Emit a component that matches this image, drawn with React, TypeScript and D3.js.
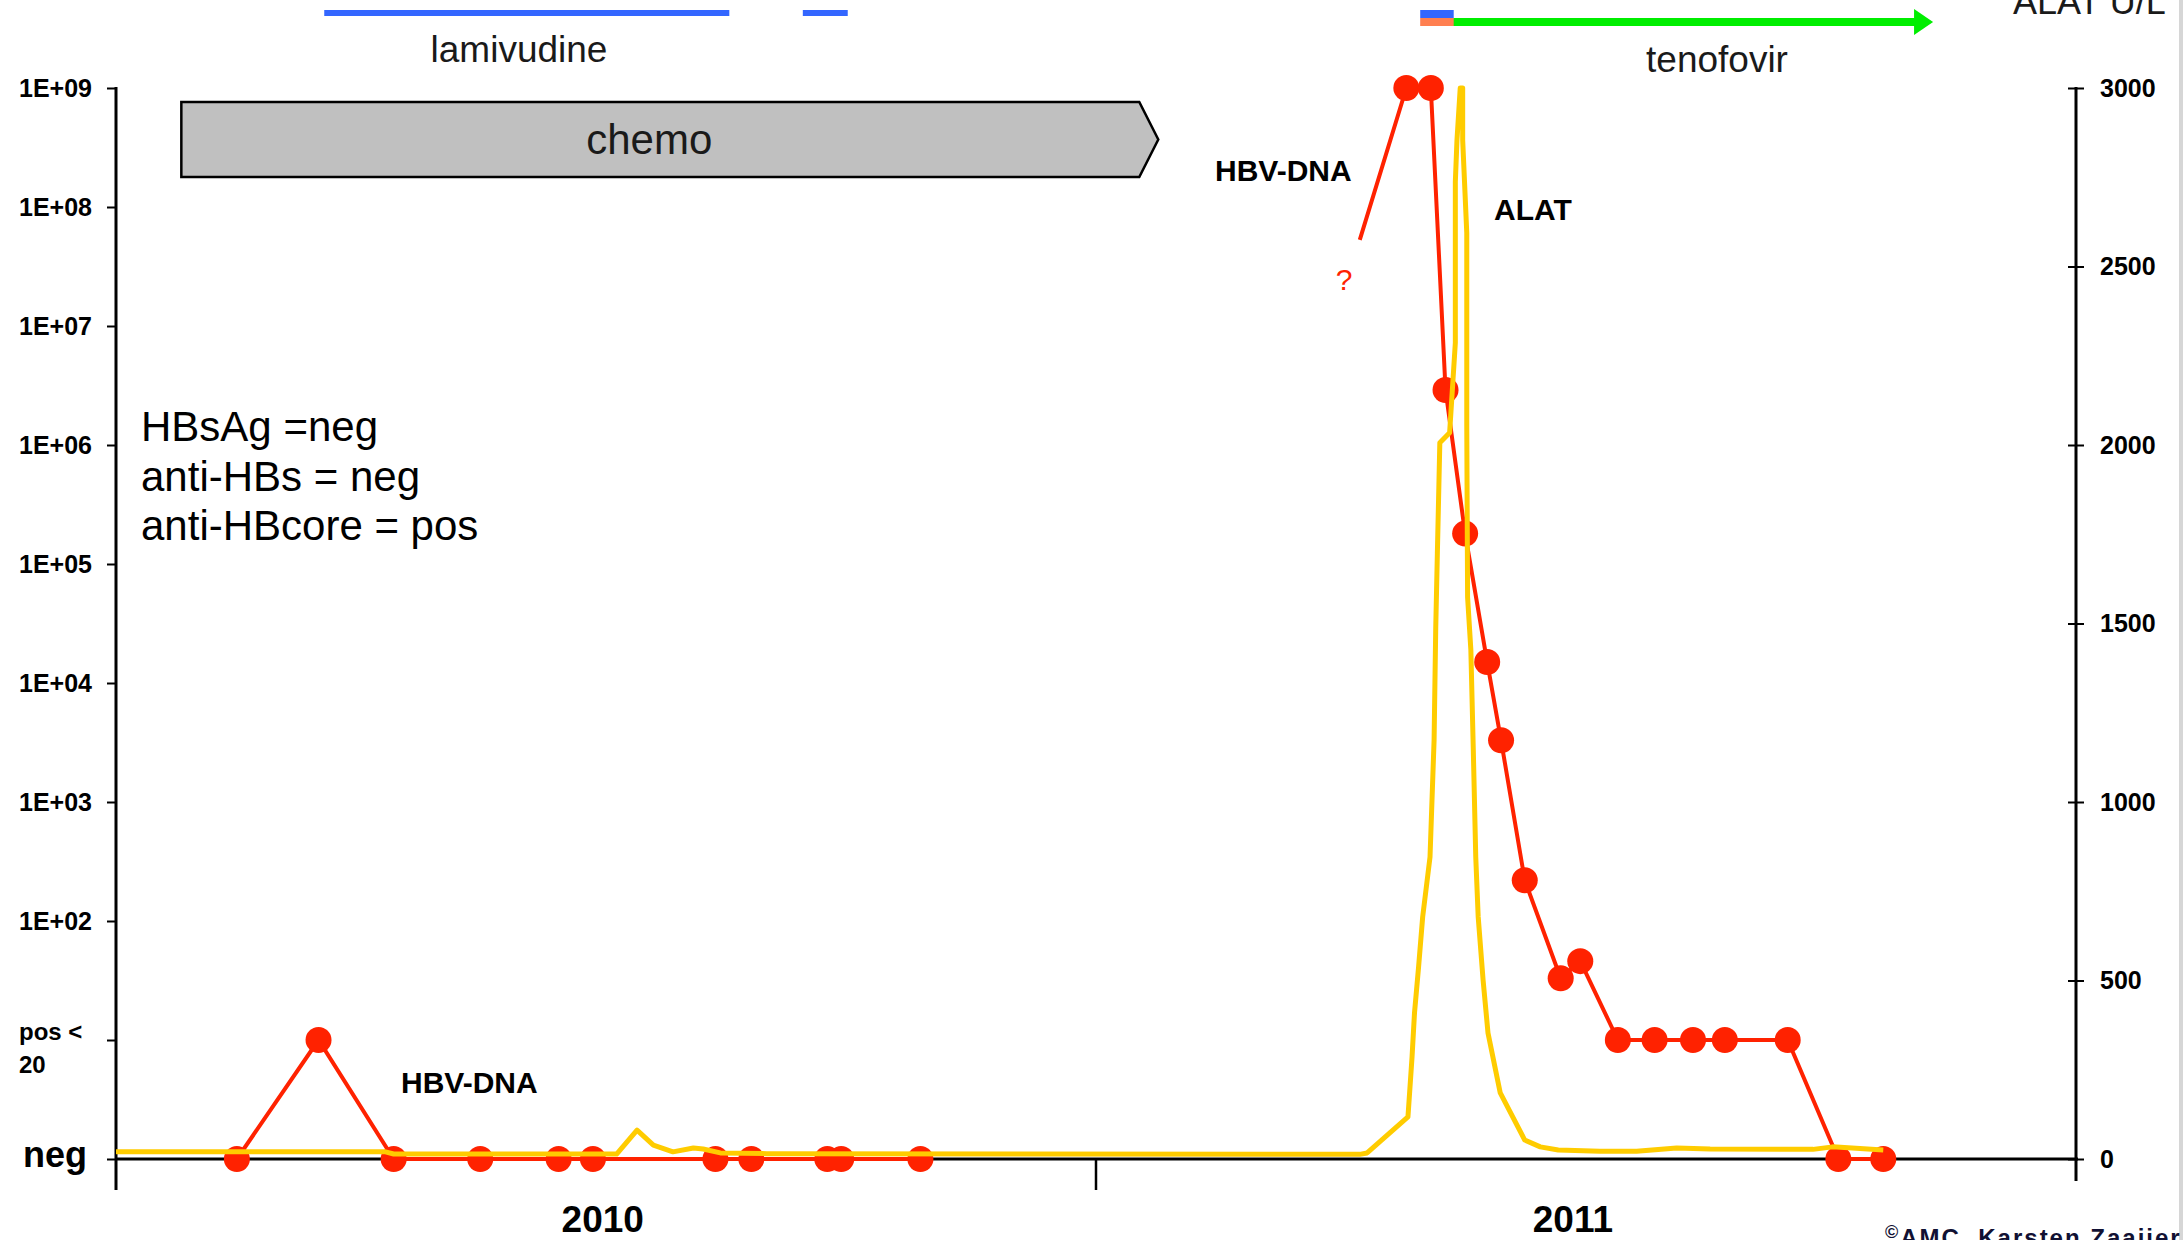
import React, { useEffect, useRef } from 'react';
import * as d3 from 'd3';

// time axis in months since Jan 2010
// HBV-DNA copies/ml, 1 = neg, 10 = pos < 20
const hbvMonths = [1.48, 2.48, 3.4, 4.46, 5.42, 5.84, 7.34, 7.78, 8.71, 8.88, 9.85, 15.8, 16.1, 16.28, 16.52, 16.79, 16.96, 17.25, 17.69, 17.93, 18.39, 18.84, 19.31, 19.7, 20.47, 21.09, 21.64];
const hbvCopies = [1, 10, 1, 1, 1, 1, 1, 1, 1, 1, 1, 1e9, 1e9, 2.9e6, 1.8e5, 1.5e4, 3.3e3, 220, 33, 46, 10, 10, 10, 10, 10, 1, 1];
const hbvBreakIndex = 11; // no samples between these two parts
const hbvUnknownMonth = 15.23; // the "?" start of the rise
const hbvUnknownCopies = 5.3e7;

// ALAT U/L
const alatMonths = [0, 3.3, 3.4, 6.13, 6.38, 6.58, 6.82, 7.07, 7.19, 7.4, 7.97, 15.23, 15.32, 15.82, 15.87, 15.9, 15.95, 16.0, 16.09, 16.14, 16.16, 16.18, 16.2, 16.21, 16.33, 16.4, 16.4, 16.4, 16.42, 16.46, 16.49, 16.49, 16.54, 16.54, 16.55, 16.59, 16.62, 16.65, 16.68, 16.74, 16.8, 16.95, 17.25, 17.44, 17.66, 18.17, 18.62, 19.11, 19.52, 20.78, 21.02, 21.64];
const alatValues = [20, 20, 14, 14, 81, 39, 20, 31, 28, 17, 15, 13, 17, 118, 286, 409, 538, 678, 846, 1174, 1487, 1697, 1902, 2006, 2034, 2286, 2406, 2737, 2854, 3000, 3000, 2854, 2594, 2056, 1574, 1426, 1146, 846, 678, 501, 353, 185, 53, 34, 25, 22, 22, 31, 28, 27, 34, 25];

const leftTickValues = [1, 10, 1e2, 1e3, 1e4, 1e5, 1e6, 1e7, 1e8, 1e9];
const leftTickLabels = ['neg', 'pos <|20', '1E+02', '1E+03', '1E+04', '1E+05', '1E+06', '1E+07', '1E+08', '1E+09'];
const rightTickValues = [0, 500, 1000, 1500, 2000, 2500, 3000];
const yearLabels = ['2010', '2011'];
const yearCenters = [5.96, 17.84];
const yearBoundaries = [12];

const chemoPeriod = [0.8, 12.53];
const lamivudinePeriods = [[2.55, 7.51], [8.41, 8.96]];
const switchPeriod = [15.97, 16.38];
const tenofovirPeriod = [16.38, 22.25];

const serology = ['HBsAg =neg', 'anti-HBs = neg', 'anti-HBcore = pos'];

const FONT = "'Liberation Sans', Arial, sans-serif";

const App = () => {
  const chartRef = useRef<HTMLDivElement | null>(null);

  useEffect(() => {
    document.body.style.margin = '0';
    const W = 2183;
    const H = 1240;
    const left = 116;
    const right = 2076;
    const top = 88;
    const base = 1159;

    const svg = d3
      .select(chartRef.current)
      .append('svg')
      .attr('width', W)
      .attr('height', H)
      .style('display', 'block')
      .style('background', '#fff');

    const x = d3.scaleLinear().domain([0, 24]).range([left, right]);
    const yLeft = d3.scaleLog().domain([1, 1e9]).range([base, top]);
    const yRight = d3.scaleLinear().domain([0, 3000]).range([base, top]);

    // thin grey frame edge on the right
    svg.append('rect').attr('x', W - 4).attr('y', 0).attr('width', 4).attr('height', H).attr('fill', '#d6d6d6');

    // chemo arrow box
    const cx0 = x(chemoPeriod[0]);
    const cx1 = x(chemoPeriod[1]);
    const cTop = 102;
    const cBot = 177;
    svg
      .append('path')
      .attr('d', `M${cx0},${cTop}L${cx1},${cTop}L${cx1 + 19},${(cTop + cBot) / 2}L${cx1},${cBot}L${cx0},${cBot}Z`)
      .attr('fill', '#c0c0c0')
      .attr('stroke', '#000')
      .attr('stroke-width', 2.5);
    svg
      .append('text')
      .attr('x', (cx0 + cx1) / 2 - 11)
      .attr('y', (cTop + cBot) / 2 + 14)
      .attr('text-anchor', 'middle')
      .style('font-family', FONT)
      .style('font-size', '42px')
      .attr('fill', '#1a1a1a')
      .text('chemo');

    // lamivudine bars
    svg
      .selectAll('.lam')
      .data(lamivudinePeriods)
      .enter()
      .append('rect')
      .attr('x', (d) => x(d[0]))
      .attr('y', 10)
      .attr('width', (d) => x(d[1]) - x(d[0]))
      .attr('height', 6)
      .attr('fill', '#3366ff');
    svg
      .append('text')
      .attr('x', 519)
      .attr('y', 62)
      .attr('text-anchor', 'middle')
      .style('font-family', FONT)
      .style('font-size', '37px')
      .attr('fill', '#1a1a1a')
      .text('lamivudine');

    // switch to tenofovir
    svg
      .append('rect')
      .attr('x', x(switchPeriod[0]))
      .attr('y', 10)
      .attr('width', x(switchPeriod[1]) - x(switchPeriod[0]))
      .attr('height', 8)
      .attr('fill', '#3366ff');
    svg
      .append('path')
      .attr('d', `M${x(switchPeriod[0])},18L${x(switchPeriod[1])},18L${x(switchPeriod[1]) + 5},26L${x(switchPeriod[0])},26Z`)
      .attr('fill', '#ff7f50');
    const tEnd = x(tenofovirPeriod[1]);
    svg
      .append('rect')
      .attr('x', x(tenofovirPeriod[0]))
      .attr('y', 18)
      .attr('width', tEnd - 18 - x(tenofovirPeriod[0]))
      .attr('height', 8)
      .attr('fill', '#00ee00');
    svg
      .append('path')
      .attr('d', `M${tEnd - 19},9L${tEnd},22L${tEnd - 19},35Z`)
      .attr('fill', '#00ee00');
    svg
      .append('text')
      .attr('x', 1717)
      .attr('y', 72)
      .attr('text-anchor', 'middle')
      .style('font-family', FONT)
      .style('font-size', '37px')
      .attr('fill', '#1a1a1a')
      .text('tenofovir');

    svg
      .append('text')
      .attr('x', 2013)
      .attr('y', 14)
      .style('font-family', FONT)
      .style('font-size', '36px')
      .attr('fill', '#1a1a1a')
      .text('ALAT U/L');

    // left axis
    const gl = svg
      .append('g')
      .attr('transform', `translate(${left},0)`)
      .call(d3.axisLeft(yLeft).tickValues(leftTickValues).tickSize(9).tickFormat((d, i) => leftTickLabels[i]));
    gl.select('.domain').remove();
    gl.selectAll('.tick line').attr('stroke', '#000').attr('stroke-width', 2);
    gl.selectAll<SVGTextElement, number>('.tick text')
      .attr('x', 19 - left)
      .attr('text-anchor', 'start')
      .attr('fill', '#000')
      .style('font-family', FONT)
      .style('font-weight', 'bold')
      .style('font-size', '25px')
      .each(function (d, i) {
        const label = leftTickLabels[i];
        const t = d3.select(this);
        if (label === 'neg') {
          t.style('font-size', '36px').attr('x', 23 - left).attr('dy', '0.22em');
        } else if (label.includes('|')) {
          const parts = label.split('|');
          t.text(null).attr('dy', null);
          t.append('tspan').attr('x', 19 - left).attr('y', -9).attr('dy', '0.35em').style('font-size', '24px').text(parts[0]);
          t.append('tspan').attr('x', 19 - left).attr('y', 24).attr('dy', '0.35em').style('font-size', '24px').text(parts[1]);
        }
      });
    svg.append('line').attr('x1', left).attr('x2', left).attr('y1', top - 1).attr('y2', 1190).attr('stroke', '#000').attr('stroke-width', 3);

    // right axis
    const gr = svg
      .append('g')
      .attr('transform', `translate(${right},0)`)
      .call(d3.axisRight(yRight).tickValues(rightTickValues).tickSize(8).tickPadding(16).tickFormat(d3.format('d')));
    gr.select('.domain').remove();
    gr.selectAll('.tick line').attr('stroke', '#000').attr('stroke-width', 2);
    gr.selectAll('.tick text')
      .attr('fill', '#000')
      .style('font-family', FONT)
      .style('font-weight', 'bold')
      .style('font-size', '25px');
    const gr2 = svg
      .append('g')
      .attr('transform', `translate(${right},0)`)
      .call(d3.axisLeft(yRight).tickValues(rightTickValues).tickSize(8).tickFormat(() => ''));
    gr2.select('.domain').remove();
    gr2.selectAll('.tick line').attr('stroke', '#000').attr('stroke-width', 2);
    svg.append('line').attr('x1', right).attr('x2', right).attr('y1', top - 1).attr('y2', 1181).attr('stroke', '#000').attr('stroke-width', 3);

    // x axis
    svg.append('line').attr('x1', left).attr('x2', right + 2).attr('y1', base).attr('y2', base).attr('stroke', '#000').attr('stroke-width', 3);
    svg
      .selectAll('.ytick')
      .data(yearBoundaries)
      .enter()
      .append('line')
      .attr('x1', (d) => x(d))
      .attr('x2', (d) => x(d))
      .attr('y1', base)
      .attr('y2', 1190)
      .attr('stroke', '#000')
      .attr('stroke-width', 2.5);
    svg
      .selectAll('.year')
      .data(yearLabels)
      .enter()
      .append('text')
      .attr('x', (d, i) => x(yearCenters[i]))
      .attr('y', 1232)
      .attr('text-anchor', 'middle')
      .style('font-family', FONT)
      .style('font-weight', 'bold')
      .style('font-size', '37px')
      .attr('fill', '#000')
      .text((d) => d);

    // HBV-DNA
    const hbv = hbvMonths.map((m, i) => [m, hbvCopies[i]] as [number, number]);
    const lineL = d3
      .line<[number, number]>()
      .x((d) => x(d[0]))
      .y((d) => yLeft(d[1]));
    const red = '#ff2200';
    svg.append('path').attr('d', lineL(hbv.slice(0, hbvBreakIndex))).attr('fill', 'none').attr('stroke', red).attr('stroke-width', 4);
    svg
      .append('path')
      .attr('d', lineL([[hbvUnknownMonth, hbvUnknownCopies] as [number, number], ...hbv.slice(hbvBreakIndex)]))
      .attr('fill', 'none')
      .attr('stroke', red)
      .attr('stroke-width', 4)
      .attr('stroke-linejoin', 'round');
    svg
      .selectAll('.dot')
      .data(hbv)
      .enter()
      .append('circle')
      .attr('cx', (d) => x(d[0]))
      .attr('cy', (d) => yLeft(d[1]))
      .attr('r', 13)
      .attr('fill', red);

    // ALAT
    const alat = alatMonths.map((m, i) => [m, alatValues[i]] as [number, number]);
    const lineR = d3
      .line<[number, number]>()
      .x((d) => x(d[0]))
      .y((d) => yRight(d[1]));
    svg
      .append('path')
      .attr('d', lineR(alat))
      .attr('fill', 'none')
      .attr('stroke', '#ffcc00')
      .attr('stroke-width', 5)
      .attr('stroke-linejoin', 'round');

    // annotations
    const boldLabel = (tx: number, ty: number, s: string) =>
      svg
        .append('text')
        .attr('x', tx)
        .attr('y', ty)
        .style('font-family', FONT)
        .style('font-weight', 'bold')
        .style('font-size', '30px')
        .attr('fill', '#000')
        .text(s);
    boldLabel(1215, 181, 'HBV-DNA');
    boldLabel(401, 1093, 'HBV-DNA');
    boldLabel(1494, 220, 'ALAT');
    svg
      .append('text')
      .attr('x', 1344)
      .attr('y', 290)
      .attr('text-anchor', 'middle')
      .style('font-family', FONT)
      .style('font-size', '30px')
      .attr('fill', red)
      .text('?');

    svg
      .selectAll('.sero')
      .data(serology)
      .enter()
      .append('text')
      .attr('x', 141)
      .attr('y', (d, i) => 441 + i * 49.5)
      .style('font-family', FONT)
      .style('font-size', '42px')
      .attr('fill', '#000')
      .text((d) => d);

    const copy = svg
      .append('text')
      .attr('x', 1885)
      .attr('y', 1246)
      .style('font-family', FONT)
      .style('font-weight', 'bold')
      .style('font-size', '24px')
      .style('letter-spacing', '2px')
      .attr('fill', '#111133');
    copy.append('tspan').style('font-size', '18px').attr('dy', -8).text('©');
    copy.append('tspan').attr('dy', 8).text('AMC,  Karsten  Zaaijer');

    return () => {
      d3.select(chartRef.current).selectAll('*').remove();
    };
  }, []);

  return <div ref={chartRef}></div>;
};

export default App;
